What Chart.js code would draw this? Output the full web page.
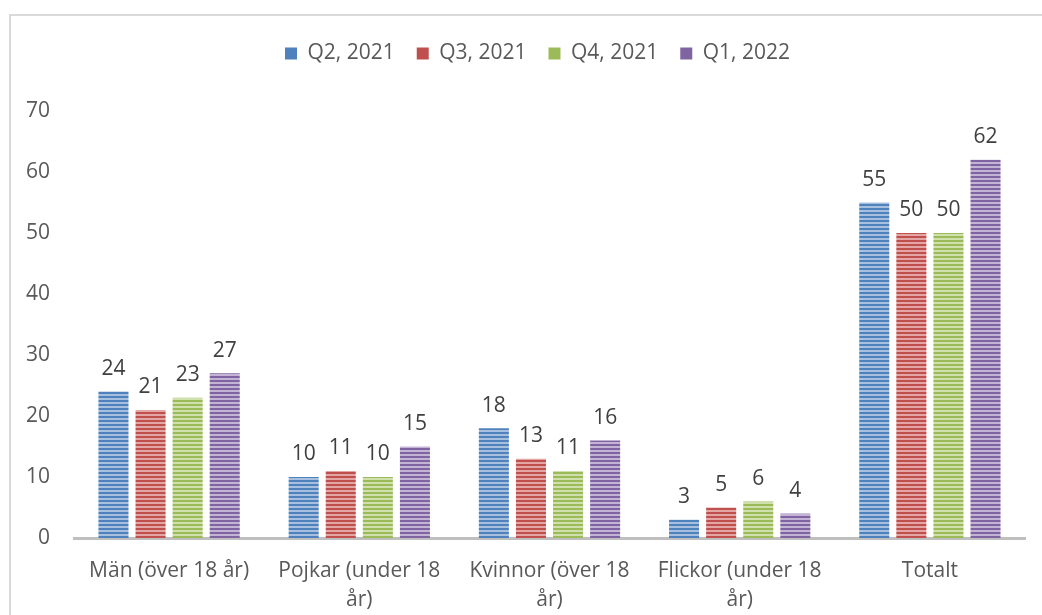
<!DOCTYPE html>
<html>
<head>
<meta charset="utf-8">
<script src="https://cdn.jsdelivr.net/npm/chart.js@4"></script>
<style>
  html, body { margin: 0; padding: 0; background: #fff; }
  #wrap { position: relative; width: 1042px; height: 615px; overflow: hidden; }
  #frame { position: absolute; left: 9px; top: 14px; width: 1100px; height: 700px;
           border-left: 2px solid #d9d9d9; border-top: 2px solid #d9d9d9; box-sizing: border-box; }
  canvas { position: absolute; left: 0; top: 0; }
</style>
</head>
<body>
<div id="wrap">
  <div id="frame"></div>
  <canvas id="chart" width="1042" height="615"></canvas>
</div>
<script>
// kategorier och värden
const categories = [
    'Män (över 18 år)',
    ['Pojkar (under 18', 'år)'],
    ['Kvinnor (över 18', 'år)'],
    ['Flickor (under 18', 'år)'],
    'Totalt',
];

const seriesNames = ['Q2, 2021', 'Q3, 2021', 'Q4, 2021', 'Q1, 2022'];
const q2_2021 = [24, 10, 18, 3, 55];
const q3_2021 = [21, 11, 13, 5, 50];
const q4_2021 = [23, 10, 11, 6, 50];
const q1_2022 = [27, 15, 16, 4, 62];

const BASE = ['#4f81bd', '#c0504d', '#9bbb59', '#8064a2'];
const LIGHT = ['#a7c0e0', '#e3a6a4', '#cfe0ad', '#c3b4d6'];
const FONT = 'Open Sans';
const FS = 21;

// randigt mönster (horisontella ränder)
function stripes(dark, light) {
    const c = document.createElement('canvas');
    c.width = 4; c.height = 4;
    const g = c.getContext('2d');
    g.fillStyle = light;
    g.fillRect(0, 0, 4, 4);
    g.fillStyle = dark;
    g.fillRect(0, 0, 4, 2);
    return g.createPattern(c, 'repeat');
}

// extra luft under förklaringen, och förklaringen lite åt höger
const legendTweak = {
    id: 'legendTweak',
    beforeInit(chart) {
        const legend = chart.legend;
        const fit = legend.fit;
        legend.fit = function () {
            fit.call(this);
            this.height += 37;
        };
        const draw = legend.draw;
        legend.draw = function () {
            const ctx = this.ctx;
            ctx.save();
            ctx.translate(15, 0);
            draw.call(this);
            ctx.restore();
        };
    }
};

const valueLabels = {
    id: 'valueLabels',
    afterDatasetsDraw(chart) {
        const ctx = chart.ctx;
        ctx.save();
        ctx.font = FS + 'px "' + FONT + '"';
        ctx.fillStyle = '#404040';
        ctx.textAlign = 'center';
        ctx.textBaseline = 'bottom';
        chart.data.datasets.forEach((ds, i) => {
            chart.getDatasetMeta(i).data.forEach((el, j) => {
                ctx.fillText(String(ds.data[j]), el.x, el.y - 12);
            });
        });
        ctx.restore();
    }
};

const allSeries = [q2_2021, q3_2021, q4_2021, q1_2022];

new Chart(document.getElementById('chart'), {
    type: 'bar',
    data: {
        labels: categories,
        datasets: allSeries.map((vals, i) => ({
            label: seriesNames[i],
            data: vals,
            backgroundColor: stripes(BASE[i], LIGHT[i]),
            borderWidth: 0,
            barPercentage: 0.81,
            categoryPercentage: 0.78,
        })),
    },
    options: {
        responsive: false,
        animation: false,
        layout: { padding: { left: 20, right: 17, top: 21, bottom: 0 } },
        plugins: {
            legend: {
                position: 'top',
                labels: {
                    boxWidth: 12, boxHeight: 12,
                    color: '#595959',
                    font: { family: FONT, size: FS },
                    padding: 22,
                    generateLabels(chart) {
                        return chart.data.datasets.map((ds, i) => ({
                            text: ds.label,
                            fillStyle: BASE[i],
                            strokeStyle: BASE[i],
                            lineWidth: 0,
                            datasetIndex: i,
                            fontColor: '#595959',
                        }));
                    },
                },
            },
            tooltip: { enabled: false },
        },
        scales: {
            x: {
                grid: { display: false },
                border: { color: '#bfbfbf', width: 3 },
                ticks: { color: '#595959', font: { family: FONT, size: FS, lineHeight: 1.4 }, maxRotation: 0, autoSkip: false, padding: 10 },
                afterFit(scale) { scale.height = 77; },
            },
            y: {
                min: 0, max: 70,
                grid: { display: false },
                border: { display: false },
                ticks: { stepSize: 10, color: '#595959', font: { family: FONT, size: FS }, padding: 16 },
                afterFit(scale) { scale.width = 54; },
            },
        },
    },
    plugins: [valueLabels, legendTweak],
});
</script>
</body>
</html>
